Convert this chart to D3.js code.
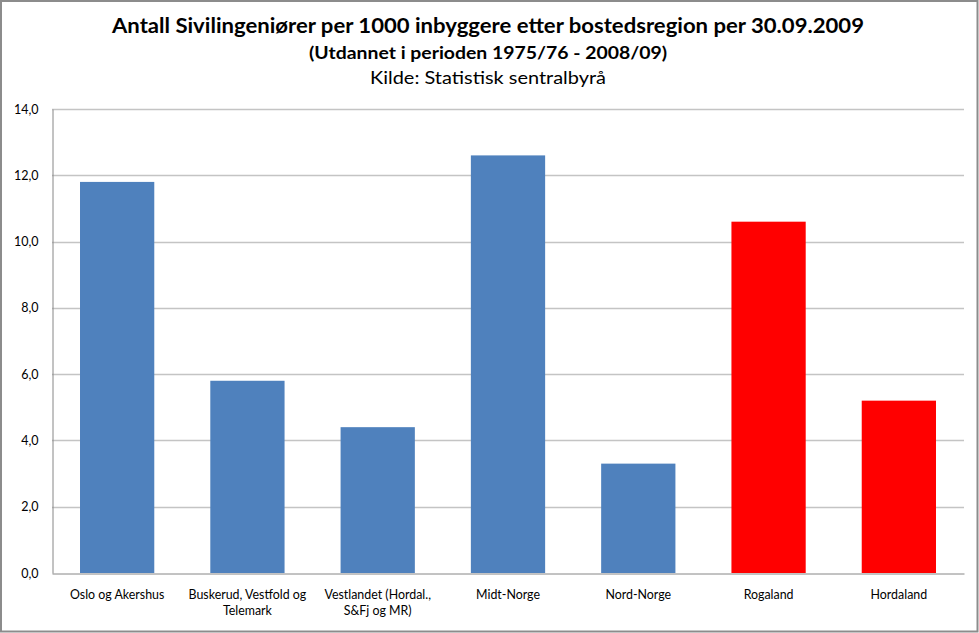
<!DOCTYPE html>
<html><head><meta charset="utf-8">
<script src="https://cdn.jsdelivr.net/npm/d3@7"></script>
<style>body{margin:0;background:#fff}svg{display:block}</style>
</head><body>
<script>
const categories = [["Oslo og Akershus"],["Buskerud, Vestfold og","Telemark"],["Vestlandet (Hordal.,","S&Fj og MR)"],["Midt-Norge"],["Nord-Norge"],["Rogaland"],["Hordaland"]];
const values = [11.8, 5.8, 4.4, 12.6, 3.3, 10.6, 5.2];
const barColors = ["#4F81BD","#4F81BD","#4F81BD","#4F81BD","#4F81BD","#FF0000","#FF0000"];
const yTicks = [0,2,4,6,8,10,12,14];
const titleLines = ["Antall Sivilingeniører per 1000 inbyggere etter bostedsregion per 30.09.2009","(Utdannet i perioden 1975/76 - 2008/09)","Kilde: Statistisk sentralbyrå"];

const W=979,H=633;
const svg=d3.select("body").append("svg").attr("width",W).attr("height",H);
const font="Lato, 'Open Sans', sans-serif";
svg.append("rect").attr("x",1).attr("y",1).attr("width",W-2.5).attr("height",H-2.5).attr("fill","#fff").attr("stroke","#8c8c8c").attr("stroke-width",2);

const L=52,R=964,T=109,B=573;
const x=d3.scaleBand().domain(d3.range(values.length)).range([L,R]).paddingInner(0.43).paddingOuter(0.215);
const y=d3.scaleLinear().domain([0,14]).range([B,T]);

// gridlines
svg.append("g").selectAll("line").data(yTicks.filter(d=>d>0)).join("line")
 .attr("x1",L).attr("x2",R).attr("y1",d=>Math.round(y(d))+0.5).attr("y2",d=>Math.round(y(d))+0.5)
 .attr("stroke","#c4c4c4").attr("stroke-width",1.3);

// bars
svg.append("g").selectAll("rect").data(values).join("rect")
 .attr("x",(d,i)=>x(i)).attr("width",x.bandwidth())
 .attr("y",d=>y(d)).attr("height",d=>B-y(d))
 .attr("fill",(d,i)=>barColors[i]);

// y axis
const ya=svg.append("g").attr("transform",`translate(${L+0.5},0)`).call(d3.axisLeft(y).tickValues(yTicks).tickSize(0).tickSizeOuter(0).tickFormat(d=>d3.format(".1f")(d).replace(".",",")));
ya.select(".domain").attr("stroke","#868686");
ya.selectAll("text").attr("font-family",font).attr("font-size",12.5).attr("fill","#000").attr("x",-14);

// x axis
const xa=svg.append("g").attr("transform",`translate(0,${B+0.5})`).call(d3.axisBottom(x).tickSize(0).tickSizeOuter(0).tickFormat(""));
xa.select(".domain").attr("stroke","#868686");
svg.append("g").selectAll("text").data(categories).join("text")
 .attr("x",(d,i)=>x(i)+x.bandwidth()/2).attr("y",599)
 .attr("text-anchor","middle").attr("font-family",font).attr("font-size",12.4).attr("fill","#000")
 .selectAll("tspan").data(d=>d).join("tspan")
 .attr("x",function(){return this.parentNode.getAttribute("x");})
 .attr("dy",(d,i)=>i?16:0).text(d=>d);

// titles
const tcfg=[{y:33,s:20.5,w:"bold",len:752},{y:59,s:16.5,w:"bold",len:358},{y:84,s:18,w:"normal",len:236}];
svg.append("g").selectAll("text").data(titleLines).join("text")
 .attr("x",488).attr("y",(d,i)=>tcfg[i].y).attr("text-anchor","middle")
 .attr("font-family",font).attr("font-size",(d,i)=>tcfg[i].s).attr("font-weight",(d,i)=>tcfg[i].w)
 .attr("textLength",(d,i)=>tcfg[i].len).attr("lengthAdjust","spacingAndGlyphs").attr("fill","#000")
 .text(d=>d);
</script>
</body></html>
